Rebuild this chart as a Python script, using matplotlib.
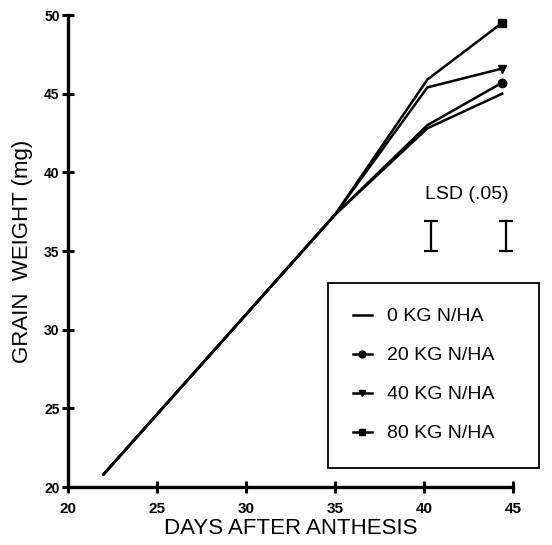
import matplotlib
matplotlib.use("Agg")
import matplotlib.pyplot as plt
import matplotlib.patches as mpatches

# data
days = [22, 35, 40.2, 44.4]
w_0kg = [20.8, 37.3, 42.8, 45.0]
w_20kg = [20.8, 37.3, 43.0, 45.7]
w_40kg = [20.8, 37.3, 45.4, 46.6]
w_80kg = [20.8, 37.3, 45.9, 49.5]
labels = ["0 KG N/HA", "20 KG N/HA", "40 KG N/HA", "80 KG N/HA"]
markers = [None, "o", "v", "s"]

lsd_x = [40.4, 44.6]
lsd_center = [35.95, 35.95]
lsd_half = [0.93, 0.93]

plt.rcParams["font.family"] = ["Liberation Sans", "DejaVu Sans"]

fig = plt.figure(figsize=(5.52, 5.45), dpi=100)
ax = fig.add_axes([0.123, 0.1064, 0.806, 0.866])

series = [w_0kg, w_20kg, w_40kg, w_80kg]
handles = []
for y, lab, mk in zip(series, labels, markers):
    ax.plot(days, y, color="black", linewidth=1.8)
    if mk is not None:
        ax.plot(days[-1:], y[-1:], linestyle="none", marker=mk, color="black", markersize=6)
    handles.append(plt.Line2D([0], [0], color="black", linewidth=1.8, marker=mk, markersize=5, label=lab))

# LSD bars
ax.errorbar(lsd_x, lsd_center, yerr=lsd_half, fmt="none", ecolor="black",
            elinewidth=1.6, capsize=5, capthick=1.6)
ax.text(42.4, 38.6, "LSD (.05)", ha="center", va="center", fontsize=14)

ax.set_xlim(20, 45)
ax.set_ylim(20, 50)
ax.set_xticks([20, 25, 30, 35, 40, 45])
ax.set_yticks([20, 25, 30, 35, 40, 45, 50])
for sp in ["top", "right"]:
    ax.spines[sp].set_visible(False)
for sp in ["left", "bottom"]:
    ax.spines[sp].set_linewidth(2.4)
ax.tick_params(direction="inout", length=8, width=2.2)
ax.tick_params(axis="x", pad=7, labelsize=11)
ax.tick_params(axis="y", pad=2, labelsize=10)
for t in ax.get_xticklabels() + ax.get_yticklabels():
    t.set_fontweight("bold")

ax.set_xlabel("DAYS AFTER ANTHESIS", fontsize=16, labelpad=1)
ax.set_ylabel("GRAIN  WEIGHT (mg)", fontsize=16, labelpad=8)

# legend box (extends past the x-axis end as in the original)
box = mpatches.Rectangle((0.584, 0.040), 0.474, 0.392, transform=ax.transAxes,
                         fill=False, edgecolor="black", linewidth=1.3, clip_on=False)
ax.add_patch(box)
ax.legend(handles=handles, loc="center", bbox_to_anchor=(0.80, 0.237),
          frameon=False, fontsize=14, handlelength=0.95, labelspacing=1.1,
          handletextpad=0.8)

fig.savefig("out.png", dpi=100)
